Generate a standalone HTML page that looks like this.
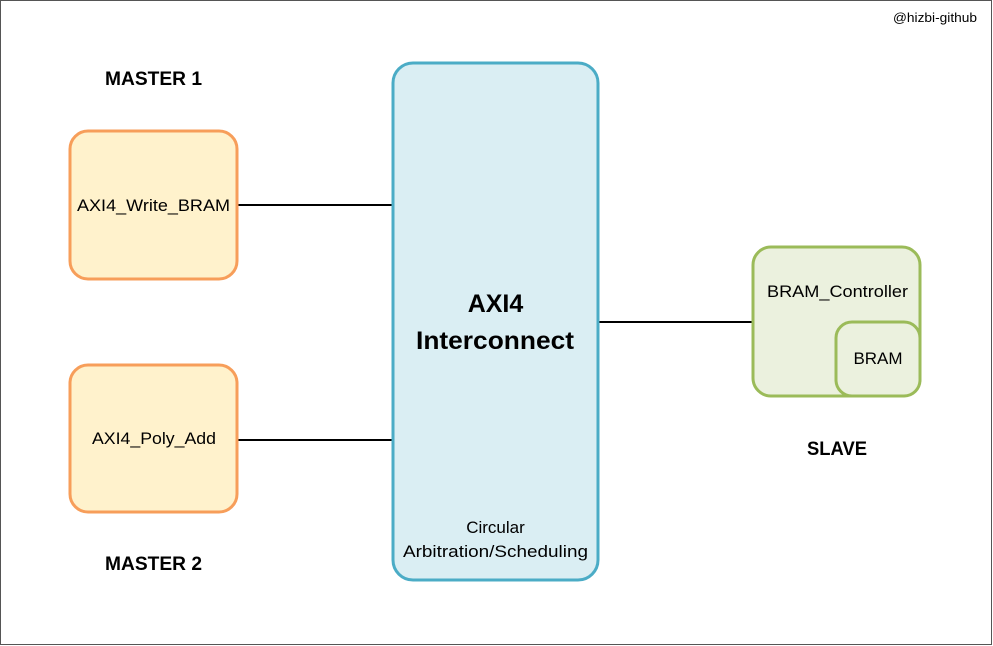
<!DOCTYPE html>
<html><head><meta charset="utf-8"><style>
html,body{margin:0;padding:0;background:#fff}
svg{display:block}
text{font-family:"Liberation Sans",sans-serif;fill:#000}
</style></head><body>
<svg width="993" height="646" viewBox="0 0 993 646">
<rect x="0.5" y="0.5" width="991" height="644" fill="#fff" stroke="#555" stroke-width="1"/>
<text x="893" y="22" font-size="13" textLength="84" lengthAdjust="spacingAndGlyphs">@hizbi-github</text>
<line x1="237" y1="205" x2="393" y2="205" stroke="#000" stroke-width="2"/>
<line x1="237" y1="440" x2="393" y2="440" stroke="#000" stroke-width="2"/>
<line x1="598" y1="322" x2="753" y2="322" stroke="#000" stroke-width="2"/>
<rect x="70" y="131" width="167" height="148" rx="18" fill="#FFF2CC" stroke="#F79E5A" stroke-width="3"/>
<rect x="70" y="365" width="167" height="147" rx="18" fill="#FFF2CC" stroke="#F79E5A" stroke-width="3"/>
<text x="77" y="211" font-size="17" textLength="153" lengthAdjust="spacingAndGlyphs">AXI4_Write_BRAM</text>
<text x="92" y="444" font-size="17" textLength="124" lengthAdjust="spacingAndGlyphs">AXI4_Poly_Add</text>
<text x="105" y="85" font-size="19" font-weight="bold" textLength="97" lengthAdjust="spacingAndGlyphs">MASTER 1</text>
<text x="105" y="570" font-size="19" font-weight="bold" textLength="97" lengthAdjust="spacingAndGlyphs">MASTER 2</text>
<rect x="393" y="63" width="205" height="517" rx="20" fill="#DAEEF3" stroke="#4BACC6" stroke-width="3"/>
<text x="495.5" y="312" font-size="25" font-weight="bold" text-anchor="middle">AXI4</text>
<text x="416" y="349" font-size="25" font-weight="bold" textLength="158" lengthAdjust="spacingAndGlyphs">Interconnect</text>
<text x="495.5" y="533" font-size="17" text-anchor="middle">Circular</text>
<text x="403" y="557" font-size="17" textLength="185" lengthAdjust="spacingAndGlyphs">Arbitration/Scheduling</text>
<rect x="753" y="247" width="167" height="149" rx="18" fill="#EBF1DE" stroke="#9BBB59" stroke-width="3"/>
<rect x="836" y="322" width="84" height="74" rx="16" fill="#EBF1DE" stroke="#9BBB59" stroke-width="3"/>
<text x="767" y="297" font-size="17" textLength="141" lengthAdjust="spacingAndGlyphs">BRAM_Controller</text>
<text x="878" y="364" font-size="17" text-anchor="middle">BRAM</text>
<text x="807" y="455" font-size="19" font-weight="bold" textLength="60" lengthAdjust="spacingAndGlyphs">SLAVE</text>
</svg>
</body></html>
